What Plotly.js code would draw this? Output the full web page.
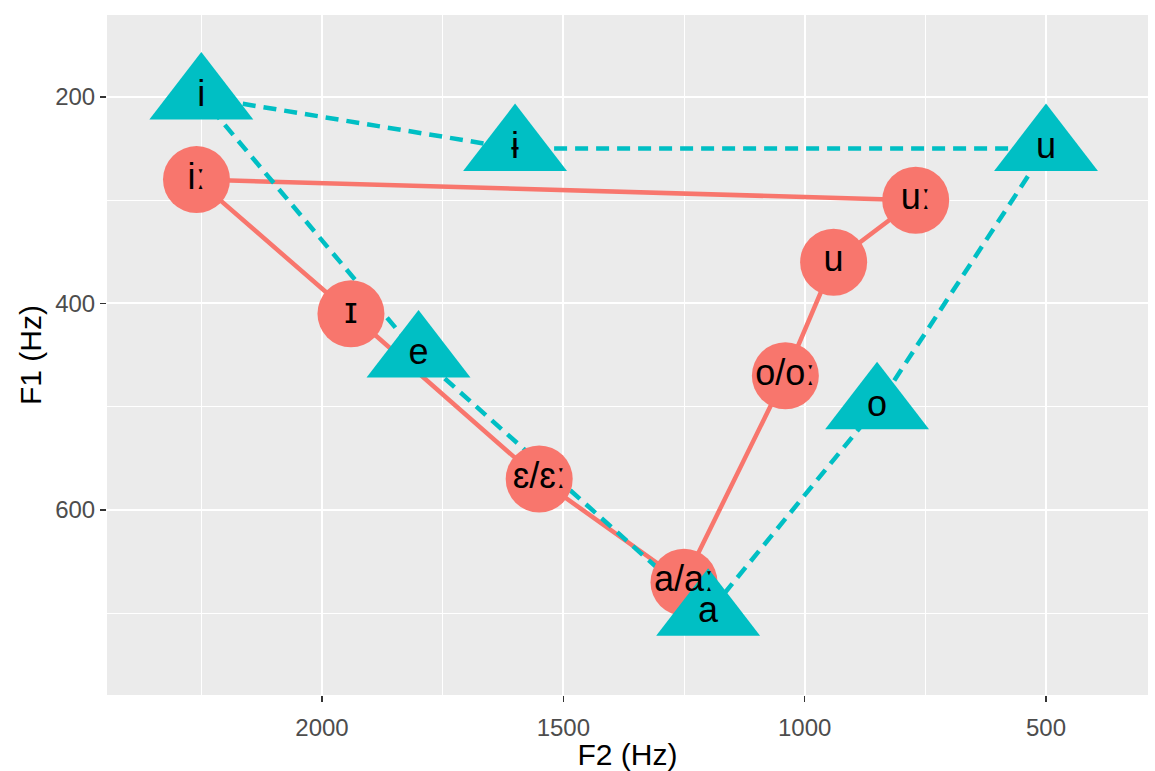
<!DOCTYPE html>
<html><head><meta charset="utf-8">
<script src="https://cdn.plot.ly/plotly-3.0.1.min.js"></script>
<style>html,body{margin:0;padding:0;background:#fff;}</style>
</head><body>
<div id="chart" style="width:1155px;height:771px;"></div>
<script>
// Long/short vowel system (red circles, solid) vs. comparison system (teal triangles, dashed)
const redLabels = ['iː', 'ɪ', 'ɛ/ɛː', 'a/aː', 'o/oː', 'u', 'uː'];
const redF2 = [2260, 1940, 1550, 1250, 1040, 940, 770];
const redF1 = [280, 410, 570, 670, 470, 360, 300];

const tealLabels = ['i', 'ɨ', 'u', 'o', 'a', 'e'];
const tealF2 = [2250, 1600, 500, 850, 1200, 1800];
const tealF1 = [200, 250, 250, 500, 700, 450];

const xTicks = [2000, 1500, 1000, 500];
const xMinor = [2250, 1750, 1250, 750];
const yTicks = [200, 400, 600];
const yMinor = [300, 500, 700];

const RED = '#F8766D', TEAL = '#00BFC4';
const closeLoop = a => a.concat([a[0]]);
const labelFont = {family: 'Liberation Sans, Arial, DejaVu Sans, sans-serif', size: 36, color: '#000'};

const traces = [
  {x: closeLoop(redF2), y: closeLoop(redF1), mode: 'lines', type: 'scatter',
   line: {color: RED, width: 4.5}, hoverinfo: 'skip'},
  {x: closeLoop(tealF2), y: closeLoop(tealF1), mode: 'lines', type: 'scatter',
   line: {color: TEAL, width: 4.5, dash: '13px,8px'}, hoverinfo: 'skip'},
  {x: redF2, y: redF1, mode: 'markers', type: 'scatter',
   marker: {symbol: 'circle', size: 67, color: RED, line: {width: 0}}},
  {x: tealF2, y: tealF1, mode: 'markers', type: 'scatter',
   marker: {symbol: 'triangle-up', size: 90, color: TEAL, line: {width: 0}}},
  {x: redF2, y: redF1, mode: 'text', type: 'scatter', text: redLabels,
   textposition: 'middle center', textfont: labelFont},
  {x: tealF2, y: tealF1, mode: 'text', type: 'scatter', text: tealLabels,
   textposition: 'middle center', textfont: labelFont}
];

const axisCommon = {
  showgrid: true, gridcolor: '#FFFFFF', gridwidth: 2,
  zeroline: false, showline: false,
  ticks: 'outside', ticklen: 6, tickwidth: 1.2, tickcolor: '#333333',
  tickfont: {family: 'Liberation Sans, Arial, sans-serif', size: 24, color: '#4D4D4D'},
  fixedrange: true
};

const layout = {
  width: 1155, height: 771,
  margin: {l: 107, r: 7, t: 15, b: 76, pad: 0},
  paper_bgcolor: '#FFFFFF', plot_bgcolor: '#EBEBEB',
  showlegend: false,
  xaxis: Object.assign({}, axisCommon, {
    range: [2445.4, 288.7],
    tickmode: 'array', tickvals: xTicks, ticktext: xTicks.map(String),
    ticklabelstandoff: 5,
    minor: {tickvals: xMinor, showgrid: true, gridcolor: '#FFFFFF', gridwidth: 1, ticks: ''},
    title: {text: 'F2 (Hz)', font: {family: 'Liberation Sans, Arial, sans-serif', size: 30, color: '#000'}, standoff: 6}
  }),
  yaxis: Object.assign({}, axisCommon, {
    range: [779.2, 120.6],
    tickmode: 'array', tickvals: yTicks, ticktext: yTicks.map(String),
    minor: {tickvals: yMinor, showgrid: true, gridcolor: '#FFFFFF', gridwidth: 1, ticks: ''},
    title: {text: 'F1 (Hz)', font: {family: 'Liberation Sans, Arial, sans-serif', size: 30, color: '#000'}, standoff: 4}
  })
};

Plotly.newPlot('chart', traces, layout, {displayModeBar: false, staticPlot: true});
</script>
</body></html>
